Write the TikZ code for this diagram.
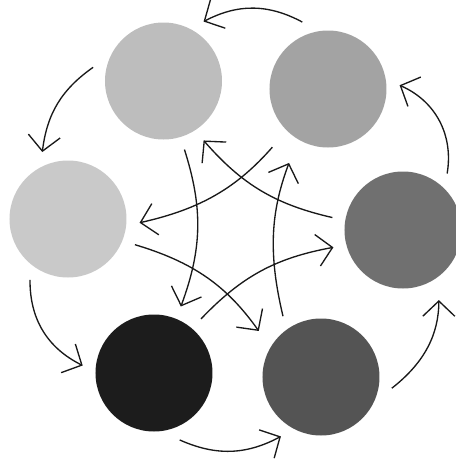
\documentclass[tikz,border=0pt]{standalone}
\usetikzlibrary{arrows.meta}
\begin{document}
\begin{tikzpicture}[
  disc/.style={
    circle,
    draw=none,
    fill=black!#1,
    minimum size=2.925cm,
    inner sep=0pt,
    outer sep=0.33cm
  },
  ringflow/.style={-{Straight Barb[length=3.8mm,width=8mm]}, line width=0.95pt, draw=black!90},
  crossflow/.style={-{Straight Barb[length=3.8mm,width=8mm]}, line width=0.95pt, draw=black!90}
]
\useasboundingbox (-5.7,-5.825) rectangle (5.7,5.825);

\node[disc=26] (discTL) at (-1.6125,3.8) {};
\node[disc=36] (discTR) at (2.5,3.6) {};
\node[disc=21] (discL) at (-4.0,0.35) {};
\node[disc=56] (discR) at (4.375,0.075) {};
\node[disc=89] (discBL) at (-1.85,-3.5) {};
\node[disc=67] (discBR) at (2.325,-3.6) {};

\draw[ringflow] (discTR.111) to[bend right=28] (discTL.56);
\draw[ringflow] (discTL.169) to[bend right=24] (discL.111);
\draw[ringflow] (discL.238) to[bend right=32] (discBL.174);
\draw[ringflow] (discBL.291) to[bend right=26] (discBR.236);
\draw[ringflow, shorten >=0.2cm] (discBR.351) to[bend right=26] (discR.300);
\draw[ringflow] (discR.52) to[bend right=38] (discTR.3);

\draw[crossflow] (discR.170) to[bend left=18] (discTL.304);
\draw[crossflow, shorten <=0.22cm] (discTR.226) to[bend left=18] (discL.357);
\draw[crossflow] (discTL.287) to[bend left=19] (discBL.68);
\draw[crossflow, shorten >=0.15cm] (discL.339) to[bend left=19] (discBR.145);
\draw[crossflow] (discBL.49) to[bend left=18] (discR.194);
\draw[crossflow, shorten >=0.3cm] (discBR.122) to[bend left=17] (discTR.241);

\end{tikzpicture}
\end{document}
